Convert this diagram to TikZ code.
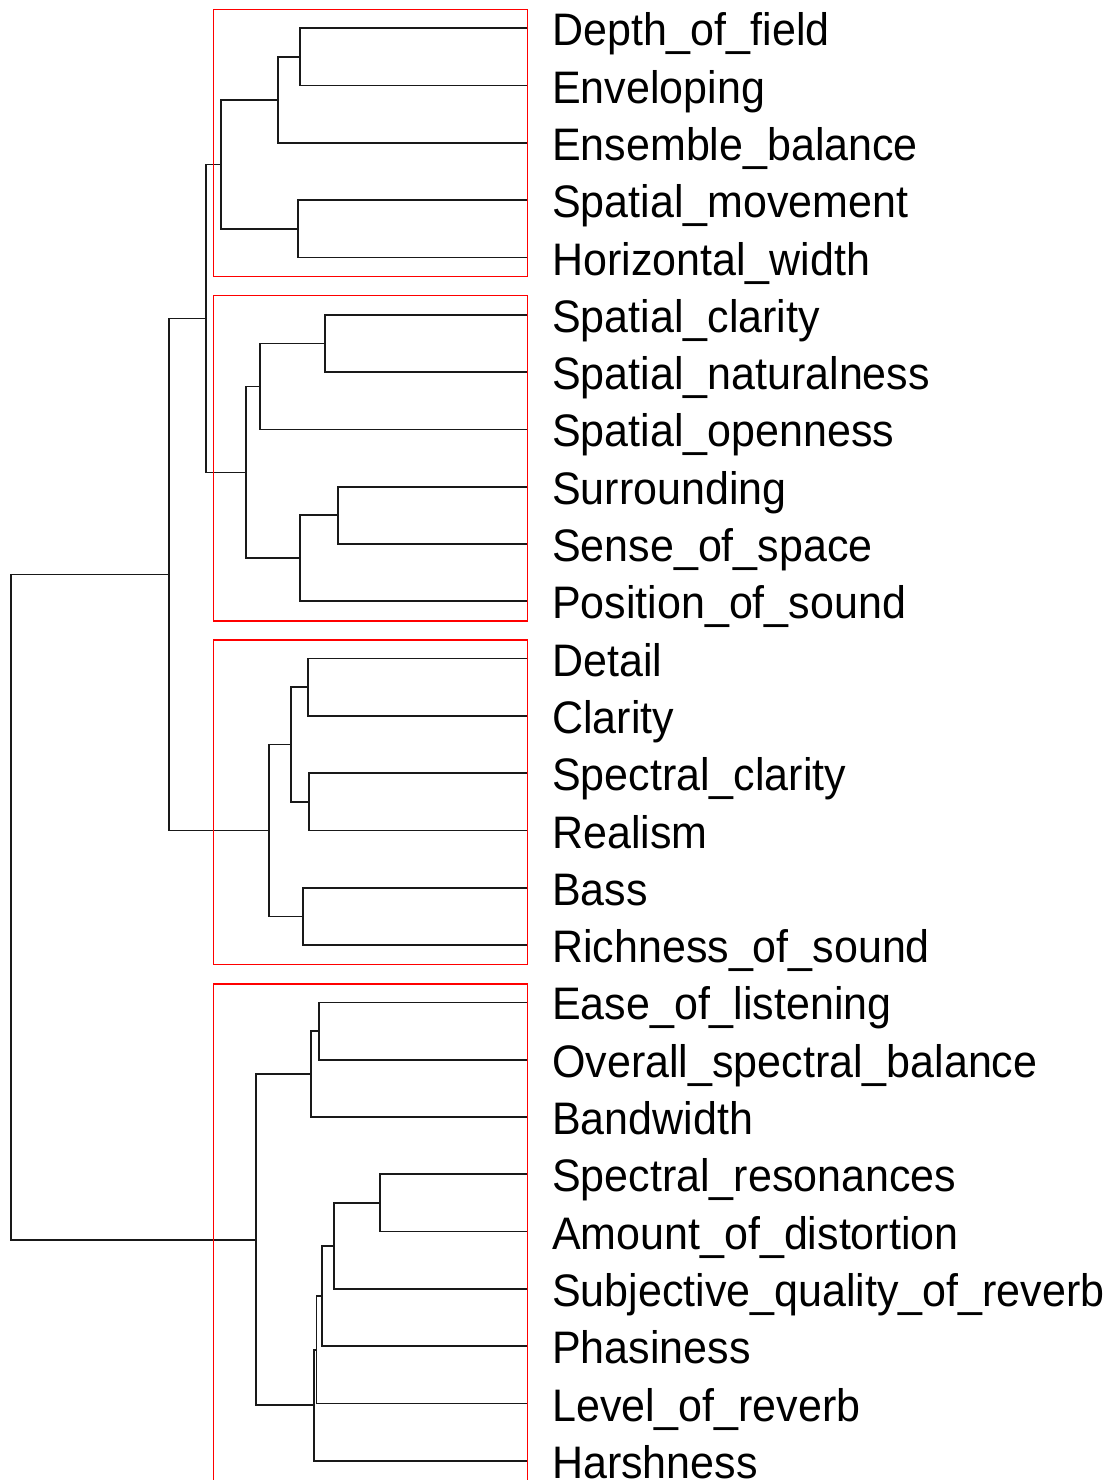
\documentclass[tikz,border=0pt]{standalone}
\usepackage{fontspec}
\setmainfont{Liberation Sans}
\begin{document}
\begin{tikzpicture}[x=1pt,y=-1pt,
  dend/.style={line width=1.7pt, draw=black!90},
  clus/.style={draw=red, line width=1.5pt},
  lbl/.style={anchor=base west, inner sep=0pt, font=\fontsize{43}{43}\selectfont}]
\useasboundingbox (0,0) rectangle (1112,1480);
\clip (0,0) rectangle (1112,1480);
% leaves and labels
\foreach \name [count=\i from 0] in {Depth\_of\_field,Enveloping,Ensemble\_balance,Spatial\_movement,Horizontal\_width,Spatial\_clarity,Spatial\_naturalness,Spatial\_openness,Surrounding,Sense\_of\_space,Position\_of\_sound,Detail,Clarity,Spectral\_clarity,Realism,Bass,Richness\_of\_sound,Ease\_of\_listening,Overall\_spectral\_balance,Bandwidth,Spectral\_resonances,Amount\_of\_distortion,Subjective\_quality\_of\_reverb,Phasiness,Level\_of\_reverb,Harshness}{
  \pgfmathsetmacro\yy{28.3+57.3*\i}
  \pgfmathsetmacro\yb{\yy+17.5}
  \coordinate (l\i) at (528,\yy);
  \node[lbl] (t\i) at (552,\yb) {\scalebox{1}[1.06]{\name}};
}
% merge points
\coordinate (m01) at (300.3,57.0);
\coordinate (m012) at (277.7,100.0);
\coordinate (m34) at (297.7,228.8);
\coordinate (mA) at (220.7,164.4);
\coordinate (m56) at (325,343.4);
\coordinate (m567) at (259.7,386.4);
\coordinate (m89) at (338,515.3);
\coordinate (m8910) at (300,558.3);
\coordinate (mB) at (246,472.4);
\coordinate (mAB) at (205.7,318.4);
\coordinate (m1112) at (308,687.2);
\coordinate (m1314) at (309.3,801.8);
\coordinate (m1114) at (291,744.5);
\coordinate (m1516) at (302.7,916.4);
\coordinate (mC) at (269.3,830.5);
\coordinate (mABC) at (168.7,574.4);
\coordinate (m1718) at (319,1031);
\coordinate (m1719) at (310.9,1074);
\coordinate (m2021) at (380,1203);
\coordinate (m2022) at (333.7,1246);
\coordinate (m2023) at (322.1,1296.1);
\coordinate (m2024) at (316.5,1349.8);
\coordinate (m2025) at (314,1405.3);
\coordinate (mD) at (256.1,1239.7);
\coordinate (root) at (10.9,907);
% dendrogram
\draw[dend] (l0) -| (m01) |- (l1);
\draw[dend] (m01) -| (m012) |- (l2);
\draw[dend] (l3) -| (m34) |- (l4);
\draw[dend] (m012) -| (mA) |- (m34);
\draw[dend] (l5) -| (m56) |- (l6);
\draw[dend] (m56) -| (m567) |- (l7);
\draw[dend] (l8) -| (m89) |- (l9);
\draw[dend] (m89) -| (m8910) |- (l10);
\draw[dend] (m567) -| (mB) |- (m8910);
\draw[dend] (mA) -| (mAB) |- (mB);
\draw[dend] (l11) -| (m1112) |- (l12);
\draw[dend] (l13) -| (m1314) |- (l14);
\draw[dend] (m1112) -| (m1114) |- (m1314);
\draw[dend] (l15) -| (m1516) |- (l16);
\draw[dend] (m1114) -| (mC) |- (m1516);
\draw[dend] (mAB) -| (mABC) |- (mC);
\draw[dend] (l17) -| (m1718) |- (l18);
\draw[dend] (m1718) -| (m1719) |- (l19);
\draw[dend] (l20) -| (m2021) |- (l21);
\draw[dend] (m2021) -| (m2022) |- (l22);
\draw[dend] (m2022) -| (m2023) |- (l23);
\draw[dend] (m2023) -| (m2024) |- (l24);
\draw[dend] (m2024) -| (m2025) |- (l25);
\draw[dend] (m1719) -| (mD) |- (m2025);
\draw[dend] (mABC) -| (root) |- (mD);
% cluster boxes
\draw[clus] (213.3,9.3) rectangle (527.7,276.7);
\draw[clus] (213.3,295.7) rectangle (527.7,621);
\draw[clus] (213.3,640) rectangle (527.7,964.3);
\draw[clus] (213.3,984) rectangle (527.7,1500);
\end{tikzpicture}
\end{document}
